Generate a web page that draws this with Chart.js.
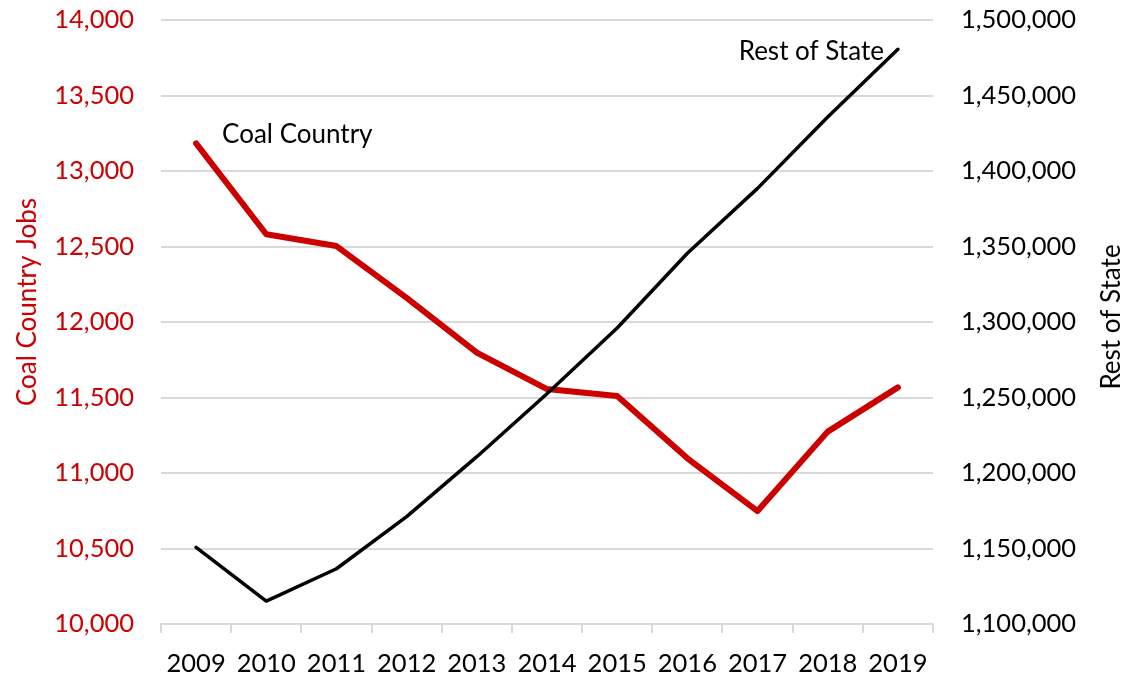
<!DOCTYPE html>
<html>
<head>
<meta charset="utf-8">
<script src="https://cdn.jsdelivr.net/npm/chart.js@4.4.1/dist/chart.umd.min.js"></script>
<style>
  html, body { margin: 0; padding: 0; background: #ffffff; }
  #wrap { width: 1141px; height: 676px; }
</style>
</head>
<body>
<div id="wrap"><canvas id="c" width="1141" height="676"></canvas></div>
<script>
const categories = ['2009', '2010', '2011', '2012', '2013', '2014', '2015', '2016', '2017', '2018', '2019'];
const coalCountryJobs = [13183, 12581, 12503, 12160, 11797, 11556, 11510, 11097, 10748, 11274, 11567];
const restOfStateJobs = [1150800, 1115200, 1136600, 1171100, 1210800, 1252500, 1296000, 1345500, 1388500, 1435800, 1480600];
const leftAxisRange = [10000, 14000, 500];
const rightAxisRange = [1100000, 1500000, 50000];
const seriesNames = ['Coal Country', 'Rest of State'];
const axisTitles = ['Coal Country Jobs', 'Rest of State'];

const RED = '#cc0000';
const GRID = '#d9d9d9';
const FAMILY = 'Lato, "Open Sans", sans-serif';
const TICKFONT = { family: FAMILY, size: 25.5 };
const TEXTSIZE = 26;
const fmt = v => Number(v).toLocaleString('en-US');

const annotate = {
  id: 'annotate',
  afterDatasetsDraw(chart) {
    const ctx = chart.ctx;
    const ca = chart.chartArea;
    ctx.save();
    ctx.font = TEXTSIZE + 'px ' + FAMILY;
    ctx.fillStyle = '#000';
    const p0 = chart.getDatasetMeta(0).data[0];
    ctx.textAlign = 'left';
    ctx.textBaseline = 'alphabetic';
    ctx.fillText(seriesNames[0], p0.x + 26, p0.y);
    const m1 = chart.getDatasetMeta(1).data;
    const pl = m1[m1.length - 1];
    ctx.textAlign = 'right';
    ctx.fillText(seriesNames[1], pl.x - 14, pl.y + 11);
    const midY = (ca.top + ca.bottom) / 2;
    ctx.textAlign = 'center';
    ctx.textBaseline = 'middle';
    ctx.save();
    ctx.translate(28, midY - 20);
    ctx.rotate(-Math.PI / 2);
    ctx.fillStyle = RED;
    ctx.fillText(axisTitles[0], 0, 0);
    ctx.restore();
    ctx.save();
    ctx.translate(ca.right + 179, midY - 5);
    ctx.rotate(-Math.PI / 2);
    ctx.fillStyle = '#000';
    ctx.fillText(axisTitles[1], 0, 0);
    ctx.restore();
    ctx.restore();
  }
};

new Chart(document.getElementById('c'), {
  type: 'line',
  data: {
    labels: categories,
    datasets: [
      {
        label: seriesNames[0],
        data: coalCountryJobs,
        yAxisID: 'y',
        borderColor: RED,
        backgroundColor: RED,
        borderWidth: 6,
        borderCapStyle: 'round',
        borderJoinStyle: 'round',
        pointRadius: 0,
        tension: 0,
        order: 2,
        clip: false
      },
      {
        label: seriesNames[1],
        data: restOfStateJobs,
        yAxisID: 'y1',
        borderColor: '#000000',
        backgroundColor: '#000000',
        borderWidth: 3.5,
        borderCapStyle: 'round',
        borderJoinStyle: 'round',
        pointRadius: 0,
        tension: 0,
        order: 1,
        clip: false
      }
    ]
  },
  options: {
    responsive: false,
    animation: false,
    devicePixelRatio: 1,
    layout: { padding: { top: 0, left: 0, right: 0, bottom: 0 } },
    plugins: { legend: { display: false }, tooltip: { enabled: false } },
    scales: {
      x: {
        type: 'category',
        offset: true,
        grid: { offset: true, drawOnChartArea: false, drawTicks: true, tickLength: 9, color: GRID, lineWidth: 2 },
        border: { display: true, color: GRID, width: 2 },
        ticks: { color: '#000', font: TICKFONT, padding: 15, maxRotation: 0, autoSkip: false },
        afterFit: s => { s.height = 52; s.paddingLeft = 0; s.paddingRight = 0; }
      },
      y: {
        position: 'left',
        min: leftAxisRange[0],
        max: leftAxisRange[1],
        grid: { color: GRID, lineWidth: 2, drawTicks: false },
        border: { display: false },
        ticks: { stepSize: leftAxisRange[2], color: RED, font: TICKFONT, padding: 27, callback: v => fmt(v) },
        afterFit: s => { s.width = 161; s.paddingTop = 20; s.paddingBottom = 0; }
      },
      y1: {
        position: 'right',
        min: rightAxisRange[0],
        max: rightAxisRange[1],
        grid: { display: false, drawTicks: false },
        border: { display: false },
        ticks: { stepSize: rightAxisRange[2], color: '#000', font: TICKFONT, padding: 28, callback: v => fmt(v) },
        afterFit: s => { s.width = 208; s.paddingTop = 20; s.paddingBottom = 0; }
      }
    }
  },
  plugins: [annotate]
});
</script>
</body>
</html>
